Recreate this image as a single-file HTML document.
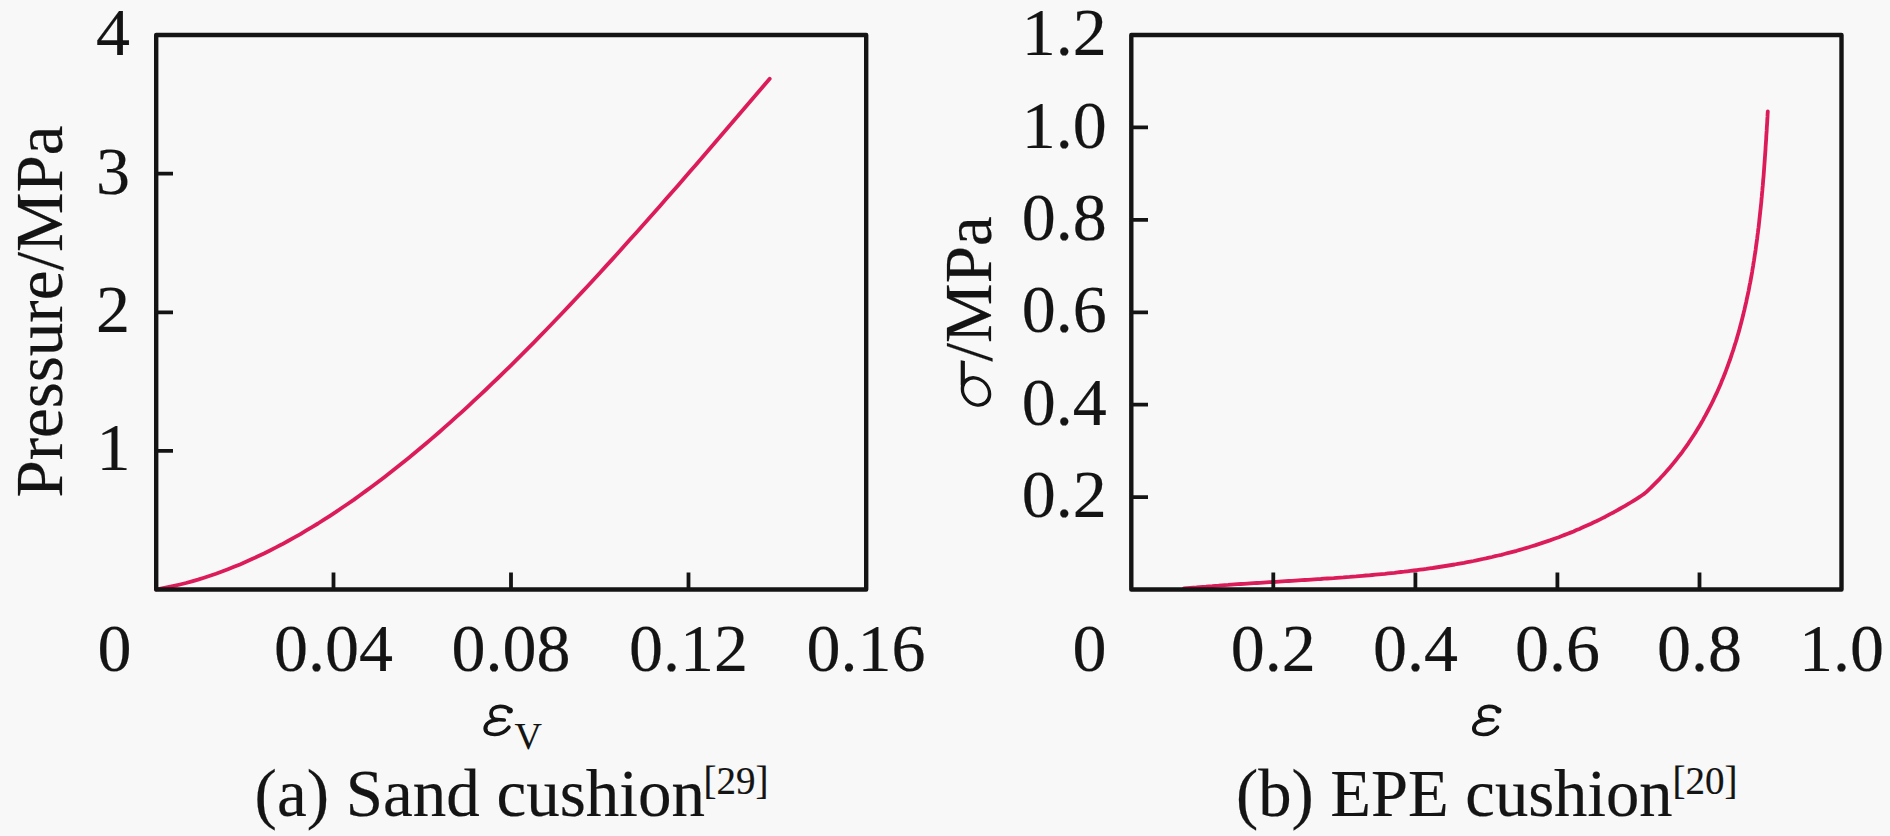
<!DOCTYPE html>
<html><head><meta charset="utf-8"><style>
html,body{margin:0;padding:0;background:#f8f8f8;}
body{width:1890px;height:836px;overflow:hidden;}
svg{display:block;}
text{font-family:"Liberation Serif",serif;fill:#141414;stroke:#141414;stroke-width:0.2;}
</style></head><body>
<svg width="1890" height="836" viewBox="0 0 1890 836">
<rect width="1890" height="836" fill="#f8f8f8"/>
<path d="M156.0 589.5 L162.0 588.4 L168.0 587.2 L174.0 585.9 L180.0 584.5 L186.0 583.0 L192.0 581.3 L198.0 579.6 L204.0 577.7 L210.0 575.7 L216.0 573.7 L222.0 571.5 L228.0 569.2 L234.0 566.8 L240.0 564.4 L246.0 561.8 L252.0 559.1 L258.0 556.3 L264.0 553.5 L270.0 550.5 L276.0 547.4 L282.0 544.3 L288.0 541.0 L294.0 537.7 L300.0 534.3 L306.0 530.7 L312.0 527.1 L318.0 523.5 L324.0 519.7 L330.0 515.8 L336.0 511.9 L342.0 507.8 L348.0 503.7 L354.0 499.6 L360.0 495.3 L366.0 490.9 L372.0 486.5 L378.0 482.0 L384.0 477.5 L390.0 472.8 L396.0 468.1 L402.0 463.3 L408.0 458.5 L414.0 453.5 L420.0 448.5 L426.0 443.5 L432.0 438.4 L438.0 433.2 L444.0 427.9 L450.0 422.6 L456.0 417.2 L462.0 411.8 L468.0 406.3 L474.0 400.7 L480.0 395.1 L486.0 389.5 L492.0 383.7 L498.0 378.0 L504.0 372.1 L510.0 366.3 L516.0 360.3 L522.0 354.4 L528.0 348.3 L534.0 342.3 L540.0 336.1 L546.0 330.0 L552.0 323.8 L558.0 317.5 L564.0 311.2 L570.0 304.9 L576.0 298.5 L582.0 292.1 L588.0 285.7 L594.0 279.2 L600.0 272.7 L606.0 266.1 L612.0 259.6 L618.0 253.0 L624.0 246.3 L630.0 239.6 L636.0 232.9 L642.0 226.2 L648.0 219.5 L654.0 212.7 L660.0 205.9 L666.0 199.1 L672.0 192.2 L678.0 185.4 L684.0 178.5 L690.0 171.6 L696.0 164.7 L702.0 157.7 L708.0 150.8 L714.0 143.8 L720.0 136.8 L726.0 129.8 L732.0 122.8 L738.0 115.8 L744.0 108.8 L750.0 101.8 L756.0 94.8 L762.0 87.7 L768.0 80.7 L769.7 78.7" fill="none" stroke="#dc1c5a" stroke-width="3.8" stroke-linecap="round" stroke-linejoin="round"/>
<path d="M1184.0 588.5 L1187.1 588.2 L1190.3 587.9 L1193.4 587.6 L1196.5 587.4 L1199.7 587.1 L1202.8 586.8 L1206.0 586.6 L1209.1 586.3 L1212.3 586.1 L1215.4 585.8 L1218.6 585.6 L1221.8 585.3 L1224.9 585.1 L1228.1 584.9 L1231.3 584.6 L1234.4 584.4 L1237.6 584.2 L1240.8 584.0 L1244.0 583.8 L1247.2 583.6 L1250.3 583.4 L1253.5 583.2 L1256.7 583.0 L1259.9 582.8 L1263.1 582.6 L1266.3 582.4 L1269.5 582.2 L1272.7 582.0 L1275.9 581.8 L1279.1 581.6 L1282.3 581.4 L1285.5 581.2 L1288.7 581.0 L1291.9 580.8 L1295.1 580.6 L1298.3 580.4 L1301.6 580.2 L1304.8 580.0 L1308.0 579.8 L1311.2 579.6 L1314.4 579.4 L1317.6 579.2 L1320.8 579.0 L1324.0 578.7 L1327.2 578.5 L1330.5 578.3 L1333.7 578.1 L1336.9 577.8 L1340.1 577.6 L1343.3 577.4 L1346.5 577.1 L1349.7 576.9 L1352.9 576.6 L1356.1 576.4 L1359.3 576.1 L1362.5 575.8 L1365.8 575.5 L1369.0 575.3 L1372.2 575.0 L1375.4 574.7 L1378.6 574.4 L1381.8 574.1 L1385.0 573.8 L1388.2 573.4 L1391.4 573.1 L1394.5 572.8 L1397.7 572.4 L1400.9 572.0 L1404.1 571.7 L1407.3 571.3 L1410.5 570.9 L1413.7 570.5 L1416.8 570.1 L1420.0 569.7 L1423.2 569.3 L1426.3 568.9 L1429.5 568.4 L1432.7 568.0 L1435.8 567.5 L1439.0 567.0 L1442.2 566.5 L1445.3 566.0 L1448.5 565.5 L1451.6 565.0 L1454.7 564.5 L1457.9 563.9 L1461.0 563.3 L1464.1 562.8 L1467.3 562.2 L1470.4 561.6 L1473.5 561.0 L1476.6 560.3 L1479.7 559.7 L1482.8 559.0 L1485.9 558.4 L1489.0 557.7 L1492.1 557.0 L1495.2 556.2 L1498.3 555.5 L1501.4 554.8 L1504.4 554.0 L1507.5 553.2 L1510.6 552.4 L1513.6 551.6 L1516.7 550.8 L1519.7 549.9 L1522.8 549.0 L1525.8 548.1 L1528.8 547.2 L1531.9 546.3 L1534.9 545.4 L1537.9 544.4 L1540.9 543.4 L1543.9 542.4 L1546.9 541.4 L1549.9 540.4 L1552.9 539.3 L1555.8 538.3 L1558.8 537.2 L1561.8 536.0 L1564.7 534.9 L1567.7 533.7 L1570.6 532.6 L1573.6 531.4 L1576.5 530.1 L1579.4 528.9 L1582.3 527.6 L1585.2 526.3 L1588.1 525.0 L1591.0 523.7 L1593.9 522.3 L1596.8 521.0 L1599.6 519.6 L1602.5 518.1 L1605.4 516.7 L1608.2 515.2 L1611.0 513.7 L1613.9 512.2 L1616.7 510.6 L1619.5 509.0 L1622.3 507.4 L1625.1 505.8 L1627.9 504.2 L1630.7 502.5 L1633.4 500.8 L1636.2 499.1 L1638.9 497.3 L1641.7 495.5 L1644.4 493.7 L1646.5 491.8 L1648.6 489.8 L1650.7 487.9 L1652.7 485.9 L1654.7 483.9 L1656.7 481.9 L1658.7 479.9 L1660.6 477.8 L1662.5 475.8 L1664.4 473.7 L1666.3 471.6 L1668.1 469.5 L1669.9 467.4 L1671.7 465.3 L1673.5 463.1 L1675.2 461.0 L1676.9 458.8 L1678.6 456.6 L1680.3 454.5 L1682.0 452.3 L1683.6 450.0 L1685.2 447.8 L1686.8 445.6 L1688.4 443.3 L1689.9 441.0 L1691.4 438.8 L1692.9 436.5 L1694.4 434.2 L1695.9 431.9 L1697.3 429.5 L1698.7 427.2 L1700.1 424.9 L1701.5 422.5 L1702.9 420.1 L1704.2 417.7 L1705.5 415.4 L1706.8 412.9 L1708.1 410.5 L1709.3 408.1 L1710.6 405.7 L1711.8 403.2 L1713.0 400.8 L1714.2 398.3 L1715.3 395.9 L1716.5 393.4 L1717.6 390.9 L1718.7 388.4 L1719.8 385.9 L1720.9 383.4 L1721.9 380.8 L1723.0 378.3 L1724.0 375.8 L1725.0 373.2 L1726.0 370.6 L1726.9 368.1 L1727.9 365.5 L1728.8 362.9 L1729.8 360.3 L1730.7 357.7 L1731.5 355.1 L1732.4 352.5 L1733.3 349.9 L1734.1 347.3 L1734.9 344.6 L1735.8 342.0 L1736.6 339.4 L1737.3 336.7 L1738.1 334.1 L1738.9 331.4 L1739.6 328.7 L1740.3 326.0 L1741.0 323.4 L1741.7 320.7 L1742.4 318.0 L1743.1 315.3 L1743.7 312.6 L1744.4 309.9 L1745.0 307.2 L1745.6 304.5 L1746.3 301.7 L1746.8 299.0 L1747.4 296.3 L1748.0 293.6 L1748.6 290.8 L1749.1 288.1 L1749.6 285.3 L1750.2 282.6 L1750.7 279.8 L1751.2 277.1 L1751.7 274.3 L1752.2 271.6 L1752.6 268.8 L1753.1 266.1 L1753.5 263.3 L1754.0 260.5 L1754.4 257.7 L1754.8 255.0 L1755.3 252.2 L1755.7 249.4 L1756.0 246.6 L1756.4 243.9 L1756.8 241.1 L1757.2 238.3 L1757.5 235.5 L1757.9 232.7 L1758.2 229.9 L1758.6 227.2 L1758.9 224.4 L1759.2 221.6 L1759.5 218.8 L1759.8 216.0 L1760.1 213.2 L1760.4 210.4 L1760.7 207.7 L1761.0 204.9 L1761.3 202.1 L1761.5 199.3 L1761.8 196.5 L1762.0 193.7 L1762.3 191.0 L1762.5 188.2 L1762.8 185.4 L1763.0 182.6 L1763.2 179.9 L1763.5 177.1 L1763.7 174.3 L1763.9 171.5 L1764.1 168.8 L1764.3 166.0 L1764.5 163.3 L1764.7 160.5 L1764.9 157.7 L1765.1 155.0 L1765.3 152.2 L1765.5 149.5 L1765.6 146.8 L1765.8 144.0 L1766.0 141.3 L1766.2 138.6 L1766.3 135.8 L1766.5 133.1 L1766.7 130.4 L1766.8 127.7 L1767.0 125.0 L1767.2 122.3 L1767.3 119.6 L1767.5 116.9 L1767.6 114.2 L1767.8 111.5" fill="none" stroke="#dc1c5a" stroke-width="3.8" stroke-linecap="round" stroke-linejoin="round"/>
<g fill="none" stroke="#141414" stroke-width="4.4" stroke-linejoin="round">
<rect x="156.2" y="35" width="710" height="554.5"/>
<path d="M333.5 589.5V572.5 M511 589.5V572.5 M688.5 589.5V572.5" stroke-width="3.8"/>
<path d="M156 450.9H173 M156 312.3H173 M156 173.6H173" stroke-width="3.8"/>
</g>
<g font-size="68">
<text x="113" y="54.8" text-anchor="middle">4</text>
<text x="113" y="193.5" text-anchor="middle">3</text>
<text x="113" y="331.8" text-anchor="middle">2</text>
<text x="113.5" y="470.4" text-anchor="middle">1</text>
<text x="114.5" y="671" text-anchor="middle">0</text>
<text x="333.5" y="671" text-anchor="middle">0.04</text>
<text x="511" y="671" text-anchor="middle">0.08</text>
<text x="688.5" y="671" text-anchor="middle">0.12</text>
<text x="866" y="671" text-anchor="middle">0.16</text>
<text transform="translate(62.4 311.5) rotate(-90)" text-anchor="middle" font-size="67">Pressure/MPa</text>
<text x="254.6" y="815.8" font-size="67">(a) Sand cushion</text>
</g>
<text x="514.5" y="748.5" font-size="38" style="stroke-width:0.1">V</text>
<text x="703.5" y="793.5" font-size="39" style="stroke-width:0.2">[29]</text>
<g fill="none" stroke="#141414" stroke-width="4.4" stroke-linejoin="round">
<rect x="1131.3" y="35" width="710.2" height="554.5"/>
<path d="M1273.3 589.5V572.5 M1415.4 589.5V572.5 M1557.4 589.5V572.5 M1699.5 589.5V572.5" stroke-width="3.8"/>
<path d="M1131 497.1H1148 M1131 404.7H1148 M1131 312.3H1148 M1131 219.9H1148 M1131 127.4H1148" stroke-width="3.8"/>
</g>
<g font-size="68">
<text x="1106.7" y="55.1" text-anchor="end">1.2</text>
<text x="1106.7" y="147.5" text-anchor="end">1.0</text>
<text x="1106.7" y="239.9" text-anchor="end">0.8</text>
<text x="1106.7" y="332.3" text-anchor="end">0.6</text>
<text x="1106.7" y="424.7" text-anchor="end">0.4</text>
<text x="1106.7" y="517.1" text-anchor="end">0.2</text>
<text x="1089.4" y="671" text-anchor="middle">0</text>
<text x="1273.3" y="671" text-anchor="middle">0.2</text>
<text x="1415.4" y="671" text-anchor="middle">0.4</text>
<text x="1557.4" y="671" text-anchor="middle">0.6</text>
<text x="1699.5" y="671" text-anchor="middle">0.8</text>
<text x="1841.5" y="671" text-anchor="middle">1.0</text>
<text transform="translate(991 361.5) rotate(-90)" font-size="67">/MPa</text>
<text x="1236" y="815.7" font-size="66.6">(b) EPE cushion</text>
</g>
<g fill="none" stroke="#141414" transform="matrix(1 0.18 0 1 0 -175.7)">
<ellipse cx="976" cy="391.5" rx="13.6" ry="13.4" stroke-width="3.4"/>
<path d="M962.8 388V363" stroke-width="4.2"/>
</g>
<g id="eps" fill="none" stroke="#141414" stroke-linecap="round">
<path d="M1499 710.8 C1497 707.2 1492.5 706.3 1488.7 706.3 C1483 706.3 1479.6 709.6 1479.6 713.4 C1479.6 717 1482.3 719.3 1485.8 719.5 L1492.8 720" stroke-width="3.7"/>
<path d="M1486 719.8 C1478.5 720 1473.8 724.2 1473.8 728.6 C1473.8 732.4 1477.8 734.5 1483.4 734.5 C1489.6 734.5 1494.6 731 1497.4 727.3" stroke-width="3.7"/>
<path d="M1475.2 725 C1474.3 727 1474.2 729.8 1475.3 731.6" stroke-width="3"/>
<path d="M1480.6 710.5 C1480 712.5 1480 714.5 1480.8 716" stroke-width="2.6"/>
<circle cx="1498.4" cy="710.5" r="3" fill="#141414" stroke="none"/>
</g>
<use href="#eps" transform="translate(-988.6 0)"/>
<text x="1672.5" y="793.5" font-size="39" style="stroke-width:0.2">[20]</text>
</svg>
</body></html>
